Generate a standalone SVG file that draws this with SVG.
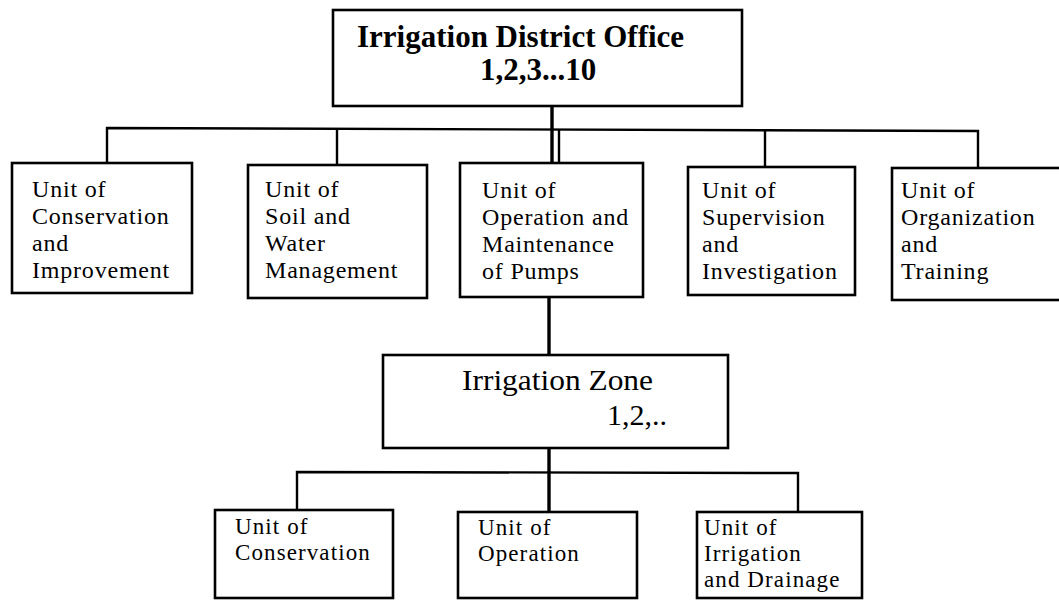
<svg xmlns="http://www.w3.org/2000/svg" width="1059" height="605" viewBox="0 0 1059 605">
  <style>
    .box { fill: #ffffff; stroke: #000000; stroke-width: 2.6; }
    .wire { fill: none; stroke: #000000; stroke-width: 2.4; }
    .trunk { fill: none; stroke: #000000; stroke-width: 3.4; }
    .t { font-family: "Liberation Serif", "Times New Roman", serif; font-size: 24px; letter-spacing: 0.8px; fill: #000000; }
    .s { font-family: "Liberation Serif", "Times New Roman", serif; font-size: 23px; letter-spacing: 1.1px; fill: #000000; }
    .head { font-family: "Liberation Serif", "Times New Roman", serif; font-size: 31px; font-weight: bold; fill: #000000; }
    .zone { font-family: "Liberation Serif", "Times New Roman", serif; font-size: 30px; fill: #000000; }
  </style>
  <rect width="1059" height="605" fill="#ffffff"/>

  <!-- connectors -->
  <g id="connectors">
    <!-- district office to its five units -->
    <line class="trunk" x1="552" y1="106" x2="552" y2="163"/>
    <line class="wire" x1="559" y1="129" x2="559" y2="163"/>
    <polyline class="wire" points="107,163 107,128 978,131 978,168"/>
    <line class="wire" x1="337" y1="128" x2="337" y2="165"/>
    <line class="wire" x1="765" y1="130" x2="765" y2="167"/>
    <!-- pumps unit to irrigation zone -->
    <line class="trunk" x1="549" y1="297" x2="549" y2="355"/>
    <!-- irrigation zone to its three units -->
    <line class="trunk" x1="549" y1="448" x2="549" y2="512"/>
    <polyline class="wire" points="297,510 297,472 798,473 798,512"/>
  </g>

  <!-- top level -->
  <g id="district-office">
    <rect class="box" x="333" y="10" width="409" height="96"/>
    <text class="head" x="357" y="47">Irrigation District Office</text>
    <text class="head" x="538" y="80" text-anchor="middle">1,2,3...10</text>
  </g>

  <!-- district units -->
  <g id="unit-conservation-improvement">
    <rect class="box" x="12" y="163" width="180" height="130"/>
    <text class="t" x="32" y="197">Unit of</text>
    <text class="t" x="32" y="224">Conservation</text>
    <text class="t" x="32" y="251">and</text>
    <text class="t" x="32" y="278">Improvement</text>
  </g>

  <g id="unit-soil-water">
    <rect class="box" x="248" y="165" width="179" height="133"/>
    <text class="t" x="265" y="197">Unit of</text>
    <text class="t" x="265" y="224">Soil and</text>
    <text class="t" x="265" y="251">Water</text>
    <text class="t" x="265" y="278">Management</text>
  </g>

  <g id="unit-operation-pumps">
    <rect class="box" x="460" y="163" width="183" height="134"/>
    <text class="t" x="482" y="198">Unit of</text>
    <text class="t" x="482" y="225">Operation and</text>
    <text class="t" x="482" y="252">Maintenance</text>
    <text class="t" x="482" y="279">of Pumps</text>
  </g>

  <g id="unit-supervision">
    <rect class="box" x="688" y="167" width="167" height="128"/>
    <text class="t" x="702" y="198">Unit of</text>
    <text class="t" x="702" y="225">Supervision</text>
    <text class="t" x="702" y="252">and</text>
    <text class="t" x="702" y="279">Investigation</text>
  </g>

  <g id="unit-organization">
    <rect class="box" x="892" y="168" width="170" height="132"/>
    <text class="t" x="901" y="198">Unit of</text>
    <text class="t" x="901" y="225">Organization</text>
    <text class="t" x="901" y="252">and</text>
    <text class="t" x="901" y="279">Training</text>
  </g>

  <!-- zone level -->
  <g id="irrigation-zone">
    <rect class="box" x="383" y="355" width="345" height="93"/>
    <text class="zone" x="462" y="390" textLength="191" lengthAdjust="spacingAndGlyphs">Irrigation Zone</text>
    <text class="zone" x="607" y="425">1,2,..</text>
  </g>

  <!-- zone units -->
  <g id="zone-unit-conservation">
    <rect class="box" x="215" y="510" width="178" height="88"/>
    <text class="s" x="235" y="534">Unit of</text>
    <text class="s" x="235" y="560">Conservation</text>
  </g>

  <g id="zone-unit-operation">
    <rect class="box" x="458" y="512" width="179" height="86"/>
    <text class="s" x="478" y="535">Unit of</text>
    <text class="s" x="478" y="561">Operation</text>
  </g>

  <g id="zone-unit-irrigation-drainage">
    <rect class="box" x="697" y="512" width="165" height="86"/>
    <text class="s" x="704" y="535">Unit of</text>
    <text class="s" x="704" y="561">Irrigation</text>
    <text class="s" x="704" y="587">and Drainage</text>
  </g>
</svg>
